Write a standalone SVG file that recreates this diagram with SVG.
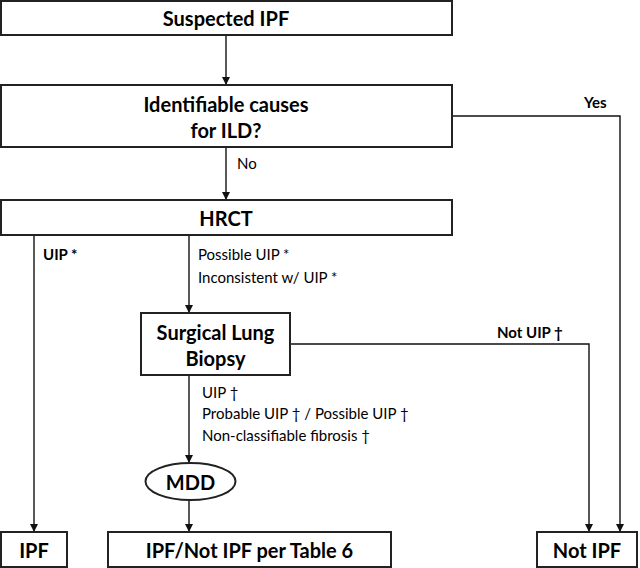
<svg xmlns="http://www.w3.org/2000/svg" width="640" height="568" viewBox="0 0 640 568">
<style>
.box{fill:#fff;stroke:#222;stroke-width:2}
.ln{fill:none;stroke:#111;stroke-width:1.4}
.t{font-family:Lato,"Open Sans",sans-serif;font-weight:bold;font-size:20px;fill:#000;text-anchor:middle;dominant-baseline:central}
.l{font-family:Lato,"Open Sans",sans-serif;font-size:15px;fill:#000;dominant-baseline:central}
.lb{font-family:Lato,"Open Sans",sans-serif;font-weight:bold;font-size:15px;fill:#000;dominant-baseline:central}
</style>
<defs>
<marker id="ah" viewBox="0 0 8 9" refX="8" refY="4.5" markerWidth="8" markerHeight="9" markerUnits="userSpaceOnUse" orient="auto">
<path d="M0,0.5 L8,4.5 L0,8.5 Z" fill="#111"/>
</marker>
</defs>
<rect width="640" height="568" fill="#fff"/>
<g id="connectors">
<path class="ln" d="M226,35 V85" marker-end="url(#ah)"/>
<path class="ln" d="M226,147 V200" marker-end="url(#ah)"/>
<path class="ln" d="M452,116 H620 V532" marker-end="url(#ah)"/>
<path class="ln" d="M34,235 V532" marker-end="url(#ah)"/>
<path class="ln" d="M189,235 V313" marker-end="url(#ah)"/>
<path class="ln" d="M290,344 H589 V532" marker-end="url(#ah)"/>
<path class="ln" d="M189,375 V463" marker-end="url(#ah)"/>
<path class="ln" d="M189,500 V532" marker-end="url(#ah)"/>
<text class="lb" x="584" y="102">Yes</text>
<text class="l" x="237" y="163">No</text>
<text class="lb" x="43" y="254">UIP *</text>
<text class="l" x="198" y="254">Possible UIP *</text>
<text class="l" x="198" y="277">Inconsistent w/ UIP *</text>
<text class="lb" x="497" y="332">Not UIP †</text>
<text class="l" x="202" y="392">UIP †</text>
<text class="l" x="202" y="413">Probable UIP † / Possible UIP †</text>
<text class="l" x="202" y="435">Non-classifiable fibrosis †</text>
</g>
<g id="suspected">
<rect class="box" x="1" y="1" width="451" height="34"/>
<text class="t" x="226" y="18">Suspected IPF</text>
</g>
<g id="causes">
<rect class="box" x="1" y="85" width="451" height="62"/>
<text class="t" x="226" y="104">Identifiable causes</text>
<text class="t" x="226" y="130">for ILD?</text>
</g>
<g id="hrct">
<rect class="box" x="1" y="200" width="451" height="35"/>
<text class="t" x="226" y="218">HRCT</text>
</g>
<g id="biopsy">
<rect class="box" x="141" y="313" width="149" height="62"/>
<text class="t" x="215.5" y="332">Surgical Lung</text>
<text class="t" x="215.5" y="358">Biopsy</text>
</g>
<g id="mdd">
<ellipse class="box" cx="190.5" cy="481.5" rx="45" ry="18.5"/>
<text class="t" x="190.5" y="482">MDD</text>
</g>
<g id="ipf">
<rect class="box" x="1" y="532" width="66" height="35"/>
<text class="t" x="34" y="550">IPF</text>
</g>
<g id="table6">
<rect class="box" x="108" y="532" width="283" height="35"/>
<text class="t" x="249.5" y="550">IPF/Not IPF per Table 6</text>
</g>
<g id="notipf">
<rect class="box" x="537" y="532" width="100" height="35"/>
<text class="t" x="587" y="550">Not IPF</text>
</g>
</svg>
